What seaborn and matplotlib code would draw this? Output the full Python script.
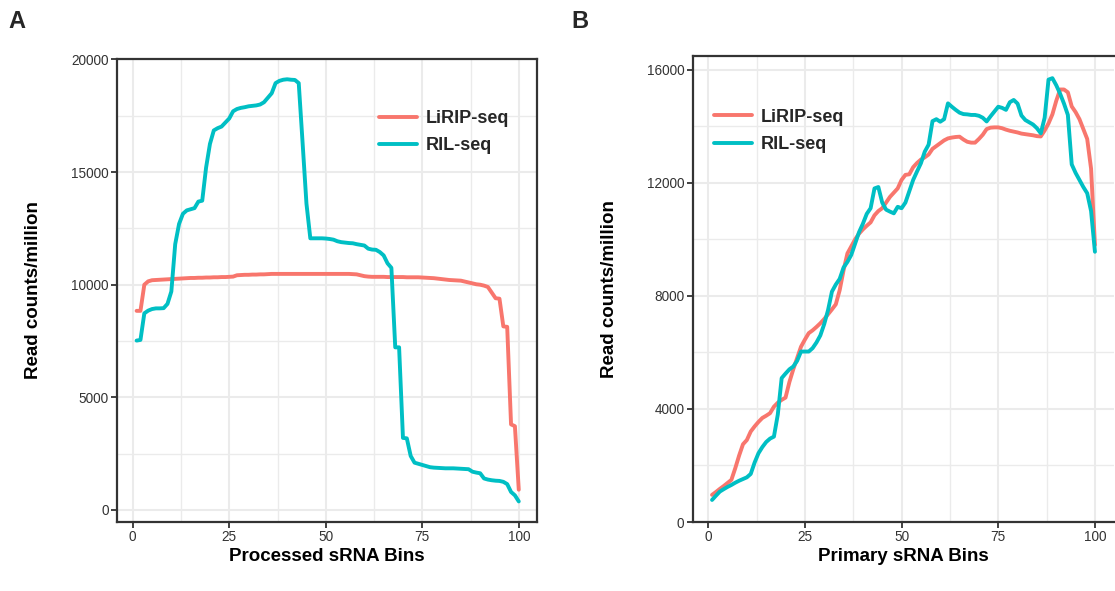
import numpy as np
import pandas as pd
import matplotlib
matplotlib.use("Agg")
import matplotlib.pyplot as plt
import seaborn as sns
from matplotlib.ticker import MultipleLocator

# ---------------- data ----------------
bins = list(range(1, 101))

processed_lirip = [
    8840, 8840, 10000, 10150, 10200, 10210, 10220, 10230, 10240, 10250,
    10260, 10270, 10280, 10290, 10300, 10300, 10310, 10310, 10320, 10320,
    10330, 10330, 10340, 10340, 10350, 10360, 10420, 10430, 10440, 10440,
    10450, 10450, 10460, 10460, 10470, 10480, 10480, 10480, 10480, 10480,
    10480, 10480, 10480, 10480, 10480, 10480, 10480, 10480, 10480, 10480,
    10480, 10480, 10480, 10480, 10480, 10480, 10470, 10460, 10420, 10380,
    10360, 10350, 10350, 10350, 10350, 10340, 10340, 10340, 10340, 10340,
    10330, 10330, 10330, 10330, 10320, 10310, 10300, 10290, 10270, 10250,
    10230, 10210, 10200, 10190, 10180, 10140, 10100, 10060, 10020, 10000,
    9960, 9900, 9650, 9400, 9380, 8150, 8130, 3800, 3720, 900,
]
processed_ril = [
    7520, 7550, 8730, 8850, 8920, 8950, 8950, 8960, 9150, 9700,
    11800, 12700, 13150, 13300, 13350, 13400, 13690, 13730, 15200, 16250,
    16850, 16950, 17020, 17200, 17380, 17700, 17800, 17850, 17880, 17920,
    17940, 17960, 18000, 18100, 18300, 18500, 18950, 19050, 19100, 19120,
    19100, 19090, 18950, 16300, 13600, 12060, 12060, 12060, 12060, 12050,
    12030, 12000, 11930, 11890, 11870, 11850, 11840, 11800, 11770, 11740,
    11600, 11560, 11550, 11450, 11300, 10950, 10750, 7220, 7220, 3200,
    3180, 2400, 2100, 2050, 2000, 1950, 1900, 1880, 1870, 1860,
    1850, 1850, 1850, 1840, 1830, 1820, 1810, 1700, 1660, 1630,
    1400, 1350, 1320, 1300, 1290, 1250, 1150, 800, 650, 380,
]

primary_lirip = [
    960, 1060, 1170, 1270, 1380, 1490, 1900, 2350, 2750, 2900,
    3200, 3380, 3540, 3680, 3760, 3850, 4080, 4220, 4320, 4400,
    4950, 5400, 5800, 6200, 6450, 6680, 6780, 6900, 7030, 7180,
    7350, 7520, 7700, 8200, 8900, 9500, 9750, 10000, 10200, 10350,
    10480, 10600, 10850, 11000, 11100, 11300, 11500, 11650, 11800, 12100,
    12280, 12300, 12550, 12700, 12820, 12900, 13000, 13200, 13300, 13400,
    13500, 13570, 13600, 13620, 13630, 13530, 13450, 13420, 13420, 13550,
    13700, 13900, 13950, 13960, 13960, 13930, 13880, 13840, 13810, 13780,
    13740, 13720, 13700, 13680, 13650, 13640, 13850, 14100, 14420, 14900,
    15300, 15300, 15200, 14700, 14500, 14250, 13900, 13550, 12500, 9800,
]
primary_ril = [
    780, 930, 1075, 1160, 1240, 1310, 1390, 1460, 1520, 1580,
    1700, 2100, 2430, 2650, 2830, 2950, 3020, 3800, 5090, 5250,
    5400, 5500, 5700, 6030, 6030, 6030, 6150, 6350, 6600, 7000,
    7500, 8150, 8400, 8600, 9000, 9200, 9450, 9850, 10250, 10550,
    10900, 11100, 11800, 11850, 11300, 11050, 10980, 10920, 11150, 11100,
    11300, 11700, 12100, 12400, 12690, 13100, 13350, 14180, 14250, 14160,
    14250, 14810, 14690, 14580, 14480, 14430, 14420, 14400, 14400, 14370,
    14300, 14170, 14350, 14520, 14690, 14650, 14580, 14850, 14930, 14800,
    14380, 14220, 14140, 14060, 13930, 13750, 14300, 15650, 15700, 15450,
    15150, 14800, 14400, 12650, 12350, 12100, 11850, 11630, 11000, 9560,
]

methods = ["LiRIP-seq", "RIL-seq"]
colors = ["#F8766D", "#00BFC4"]
xticks = [0, 25, 50, 75, 100]
yticks_a = [0, 5000, 10000, 15000, 20000]
yticks_b = [0, 4000, 8000, 12000, 16000]

df_a = pd.DataFrame({
    "bin": bins * 2,
    "value": processed_lirip + processed_ril,
    "method": [methods[0]] * len(bins) + [methods[1]] * len(bins),
})
df_b = pd.DataFrame({
    "bin": bins * 2,
    "value": primary_lirip + primary_ril,
    "method": [methods[0]] * len(bins) + [methods[1]] * len(bins),
})

# ---------------- style ----------------
sns.set_theme(style="white")
plt.rcParams["font.family"] = ["Liberation Sans", "DejaVu Sans"]

fig = plt.figure(figsize=(11.15, 5.91), dpi=100)
W, H = 1115, 591
def ax_rect(l, r, t, b):
    return [l / W, 1 - b / H, (r - l) / W, (b - t) / H]

axA = fig.add_axes(ax_rect(117.3, 537.3, 59, 521.7))
axB = fig.add_axes(ax_rect(692.7, 1113.5, 56, 522.0))

spine_col = "#333333"
grid_col = "#EBEBEB"

def style_axis(ax, df, yticks, ylim, xlabel, minor_y, legend_anchor):
    sns.lineplot(data=df, x="bin", y="value", hue="method", palette=colors,
                 hue_order=methods, linewidth=2.8, ax=ax, legend=True,
                 zorder=3)
    ax.set_xlim(-4.0, 104.8)
    ax.set_ylim(*ylim)
    ax.set_xticks(xticks)
    ax.set_yticks(yticks)
    ax.xaxis.set_minor_locator(MultipleLocator(12.5))
    ax.yaxis.set_minor_locator(MultipleLocator(minor_y))
    ax.grid(True, which="major", color=grid_col, linewidth=1.5, zorder=0)
    ax.grid(True, which="minor", color=grid_col, linewidth=1.0, zorder=0)
    ax.set_axisbelow(True)
    ax.tick_params(axis="both", which="major", direction="out", length=4,
                   width=1.3, color=spine_col, labelsize=9.8,
                   labelcolor="#333333", pad=2, bottom=True, left=True)
    ax.tick_params(axis="both", which="minor", length=0)
    for s in ax.spines.values():
        s.set_color(spine_col)
        s.set_linewidth(1.6)
    ax.set_xlabel(xlabel, fontsize=13.5, fontweight="bold", color="black",
                  labelpad=2.5)
    ax.set_ylabel("Read counts/million", fontsize=13.5, fontweight="bold",
                  color="black", labelpad=21)
    handles, labels = ax.get_legend_handles_labels()
    ax.legend(handles, labels, loc="upper left", bbox_to_anchor=legend_anchor,
              frameon=False, borderpad=0, borderaxespad=0, handlelength=2.1,
              handletextpad=0.5, labelspacing=0.58,
              prop={"family": "Liberation Sans", "weight": "bold", "size": 13})
    for ln in ax.get_legend().get_lines():
        ln.set_linewidth(2.8)

style_axis(axA, df_a, yticks_a, (-520, 20020), "Processed sRNA Bins", 2500,
           (0.623, 0.890))
style_axis(axB, df_b, yticks_b, (0, 16485), "Primary sRNA Bins", 2000,
           (0.0507, 0.887))
axB.spines["right"].set_visible(False)

fig.text(8 / W, 1 - 10 / H, "A", fontsize=17, fontweight="bold",
         family=["Liberation Sans Narrow", "Liberation Sans"], va="top", ha="left")
fig.text(571 / W, 1 - 10 / H, "B", fontsize=17, fontweight="bold",
         family=["Liberation Sans Narrow", "Liberation Sans"], va="top", ha="left")

fig.savefig("out.png", dpi=100)
